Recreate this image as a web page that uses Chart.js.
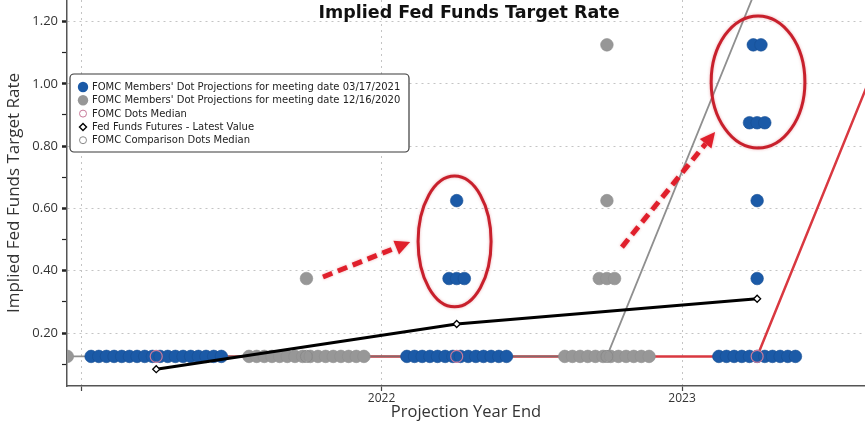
<!DOCTYPE html>
<html>
<head>
<meta charset="utf-8">
<script src="https://cdn.jsdelivr.net/npm/chart.js@4.4.1/dist/chart.umd.min.js"></script>
<style>
  html, body { margin: 0; padding: 0; background: #fff; }
  #wrap { width: 865px; height: 431px; position: relative; }
</style>
</head>
<body>
<div id="wrap"><canvas id="chart"></canvas></div>
<script>
// x position of each cluster (blue = 03/17/2021 meeting, gray = 12/16/2020 meeting)
const blueCenters = [2021.25, 2022.25, 2023.25];
const grayCenters = [2020.75, 2021.75, 2022.75];
const dotLevels = [0.125, 0.375, 0.625, 0.875, 1.125];
// members at each level of dotLevels, one row per cluster
const blueCounts = [
  [18, 0, 0, 0, 0],
  [14, 3, 1, 0, 0],
  [11, 1, 1, 3, 2]
];
const grayCounts = [
  [17, 0, 0, 0, 0],
  [16, 1, 0, 0, 0],
  [12, 3, 1, 0, 1]
];
const medianX = [2021.25, 2022.25, 2023.25, 2024.25];
const medianY = [0.125, 0.125, 0.125, 2.5];
const compMedianX = [2020.75, 2021.75, 2022.75, 2023.75];
const compMedianY = [0.125, 0.125, 0.125, 2.5];
const futuresX = [2021.25, 2022.25, 2023.25];
const futuresY = [0.084, 0.229, 0.31];
const yTicks = [0.1, 0.2, 0.3, 0.4, 0.5, 0.6, 0.7, 0.8, 0.9, 1.0, 1.1, 1.2];
const xTicks = [2021, 2022, 2023];
const xTickLabels = ['', '2022', '2023'];

const legendLabels = [
  "FOMC Members' Dot Projections for meeting date 03/17/2021",
  "FOMC Members' Dot Projections for meeting date 12/16/2020",
  "FOMC Dots Median",
  "Fed Funds Futures - Latest Value",
  "FOMC Comparison Dots Median"
];

const BLUE = '#1b5aa7';
const GRAY = '#979797';
const DOT_STEP = 0.0255; // horizontal spacing of stacked dots, in years

// lay dots of one level side by side around the cluster centre
function spread(centers, counts) {
  let pts = [];
  centers.forEach((c, i) => {
    counts[i].forEach((n, j) => {
      for (let k = 0; k < n; k++) {
        pts.push({ x: c + (k - (n - 1) / 2) * DOT_STEP, y: dotLevels[j] });
      }
    });
  });
  return pts.sort((a, b) => a.x - b.x);
}

function pairs(xs, ys) {
  return xs.map((x, i) => ({ x: x, y: ys[i] }));
}

// hand-drawn callouts, in data units
const ellipses = [
  { x: 2022.243, y: 0.494, rx: 0.1215, ry: 0.21 },
  { x: 2023.253, y: 1.006, rx: 0.156, ry: 0.212 }
];
const arrows = [
  { x1: 2021.805, y1: 0.380, x2: 2022.095, y2: 0.492 },
  { x1: 2022.80, y1: 0.476, x2: 2023.11, y2: 0.845 }
];

const calloutPlugin = {
  id: 'callouts',
  afterDatasetsDraw(chart) {
    const ctx = chart.ctx;
    const xs = chart.scales.x, ys = chart.scales.y;
    ctx.save();
    ctx.shadowColor = 'rgba(200,30,40,0.35)';
    ctx.shadowBlur = 3;
    ctx.strokeStyle = '#c8202c';
    ctx.lineWidth = 3;
    ellipses.forEach(e => {
      const cx = xs.getPixelForValue(e.x), cy = ys.getPixelForValue(e.y);
      const rx = xs.getPixelForValue(e.x + e.rx) - cx;
      const ry = cy - ys.getPixelForValue(e.y + e.ry);
      ctx.beginPath();
      ctx.ellipse(cx, cy, rx, ry, 0, 0, Math.PI * 2);
      ctx.stroke();
    });
    ctx.strokeStyle = '#e01f2b';
    ctx.fillStyle = '#e01f2b';
    arrows.forEach(a => {
      const x1 = xs.getPixelForValue(a.x1), y1 = ys.getPixelForValue(a.y1);
      const x2 = xs.getPixelForValue(a.x2), y2 = ys.getPixelForValue(a.y2);
      const ang = Math.atan2(y2 - y1, x2 - x1);
      const head = 15;
      const bx = x2 - Math.cos(ang) * head, by = y2 - Math.sin(ang) * head;
      ctx.lineWidth = 5;
      ctx.setLineDash([10, 6]);
      ctx.beginPath();
      ctx.moveTo(x1, y1);
      ctx.lineTo(bx, by);
      ctx.stroke();
      ctx.setLineDash([]);
      ctx.beginPath();
      ctx.moveTo(x2, y2);
      ctx.lineTo(bx + Math.sin(ang) * 7.5, by - Math.cos(ang) * 7.5);
      ctx.lineTo(bx - Math.sin(ang) * 7.5, by + Math.cos(ang) * 7.5);
      ctx.closePath();
      ctx.fill();
    });
    ctx.restore();
  }
};

const legendPlugin = {
  id: 'boxLegend',
  afterDraw(chart) {
    const ctx = chart.ctx;
    ctx.save();
    // box
    const bx = 70, by = 74, bw = 339, bh = 78, r = 4;
    ctx.beginPath();
    ctx.moveTo(bx + r, by);
    ctx.arcTo(bx + bw, by, bx + bw, by + bh, r);
    ctx.arcTo(bx + bw, by + bh, bx, by + bh, r);
    ctx.arcTo(bx, by + bh, bx, by, r);
    ctx.arcTo(bx, by, bx + bw, by, r);
    ctx.closePath();
    ctx.fillStyle = '#fff';
    ctx.fill();
    ctx.strokeStyle = '#3a3a3a';
    ctx.lineWidth = 1.2;
    ctx.stroke();

    ctx.font = '10px "DejaVu Sans"';
    ctx.textBaseline = 'middle';
    legendLabels.forEach((label, i) => {
      const y = 87 + i * 13.3;
      const mx = 83;
      ctx.beginPath();
      if (i === 0 || i === 1) {
        ctx.arc(mx, y, 5.2, 0, Math.PI * 2);
        ctx.fillStyle = i === 0 ? BLUE : GRAY;
        ctx.fill();
      } else if (i === 3) {
        ctx.moveTo(mx, y - 3.5);
        ctx.lineTo(mx + 3.5, y);
        ctx.lineTo(mx, y + 3.5);
        ctx.lineTo(mx - 3.5, y);
        ctx.closePath();
        ctx.fillStyle = '#fff';
        ctx.fill();
        ctx.strokeStyle = '#000';
        ctx.lineWidth = 1.4;
        ctx.stroke();
      } else {
        ctx.arc(mx, y, 3.5, 0, Math.PI * 2);
        ctx.strokeStyle = i === 2 ? '#c97a9a' : '#8a8a8a';
        ctx.lineWidth = 1;
        ctx.stroke();
      }
      ctx.fillStyle = '#222';
      ctx.fillText(label, 92, y + 0.5);
    });

    // chart title over the plot
    ctx.font = 'bold 17.5px "DejaVu Sans"';
    ctx.textAlign = 'center';
    ctx.textBaseline = 'alphabetic';
    ctx.fillStyle = '#111';
    ctx.fillText('Implied Fed Funds Target Rate', 469, 18);
    ctx.restore();
  }
};

const isMajor = v => Math.round(v * 10) % 2 === 0;

new Chart(document.getElementById('chart'), {
  type: 'scatter',
  data: {
    datasets: [
      {
        label: legendLabels[3],
        data: pairs(futuresX, futuresY),
        showLine: true,
        borderColor: '#000',
        borderWidth: 3,
        pointStyle: 'rectRot',
        pointRadius: 3.5,
        pointBackgroundColor: '#fff',
        pointBorderColor: '#000',
        pointBorderWidth: 1.3,
        order: 0
      },
      {
        label: legendLabels[2],
        data: pairs(medianX, medianY).slice(0, 3),
        pointRadius: 6,
        pointBackgroundColor: 'rgba(0,0,0,0)',
        pointBorderColor: '#c97a9a',
        pointBorderWidth: 1.2,
        order: 1
      },
      {
        label: legendLabels[4],
        data: pairs(compMedianX, compMedianY).slice(0, 3),
        pointRadius: 6,
        pointBackgroundColor: 'rgba(0,0,0,0)',
        pointBorderColor: '#8a8a8a',
        pointBorderWidth: 1,
        order: 1
      },
      {
        label: legendLabels[0],
        data: spread(blueCenters, blueCounts),
        pointRadius: 6.3,
        pointBackgroundColor: BLUE,
        pointBorderColor: '#174f94',
        pointBorderWidth: 0.6,
        order: 2
      },
      {
        label: legendLabels[1],
        data: spread(grayCenters, grayCounts),
        pointRadius: 6.3,
        pointBackgroundColor: GRAY,
        pointBorderColor: '#8f8f8f',
        pointBorderWidth: 0.6,
        order: 3
      },
      {
        label: 'comparison median line',
        data: pairs(compMedianX, compMedianY),
        showLine: true,
        borderColor: 'rgba(115,115,115,0.8)',
        borderWidth: 1.8,
        pointRadius: 0,
        order: 4
      },
      {
        label: 'median line',
        data: pairs(medianX, medianY),
        showLine: true,
        borderColor: '#d93840',
        borderWidth: 2.5,
        pointRadius: 0,
        order: 5
      }
    ]
  },
  options: {
    responsive: true,
    maintainAspectRatio: false,
    animation: false,
    events: [],
    layout: { padding: 0, autoPadding: false },
    plugins: {
      legend: { display: false },
      tooltip: { enabled: false },
      title: { display: false }
    },
    scales: {
      x: {
        type: 'linear',
        min: 2020.953,
        max: 2023.609,
        afterBuildTicks: (s) => { s.ticks = xTicks.map(v => ({ value: v })); },
        afterFit: (s) => { s.height = 45; s.paddingLeft = 0; s.paddingRight = 0; },
        ticks: {
          callback: (v, i) => xTickLabels[i],
          font: { family: 'Open Sans', size: 12 },
          color: '#333',
          padding: 0,
          maxRotation: 0,
          autoSkip: false
        },
        grid: {
          color: '#c4c4c4',
          lineWidth: 1,
          tickColor: '#444',
          tickLength: 5,
          tickWidth: 1.2
        },
        border: { color: '#555', width: 1.5, dash: [2, 4] },
        title: {
          display: true,
          text: 'Projection Year End',
          font: { family: 'Open Sans', size: 16.5 },
          color: '#333',
          padding: { top: 0, bottom: 9 }
        }
      },
      y: {
        type: 'linear',
        min: 0.03,
        max: 1.269,
        afterBuildTicks: (s) => { s.ticks = yTicks.map(v => ({ value: v })); },
        afterFit: (s) => { s.width = 67; s.paddingTop = 0; s.paddingBottom = 0; },
        ticks: {
          callback: (v) => isMajor(v) ? v.toFixed(2) : '',
          font: { family: 'Open Sans', size: 13 },
          color: '#333',
          padding: 4,
          autoSkip: false
        },
        grid: {
          color: (c) => c.tick && isMajor(c.tick.value) ? '#c4c4c4' : 'rgba(0,0,0,0)',
          lineWidth: 1,
          tickColor: '#222',
          tickLength: 5,
          tickWidth: (c) => c.tick && isMajor(c.tick.value) ? 2.5 : 1.2
        },
        border: { color: '#555', width: 1.5, dash: [2, 4] },
        title: {
          display: true,
          text: 'Implied Fed Funds Target Rate',
          font: { family: 'Open Sans', size: 17 },
          color: '#333',
          padding: { top: 4, bottom: 0 }
        }
      }
    }
  },
  plugins: [calloutPlugin, legendPlugin]
});
</script>
</body>
</html>
